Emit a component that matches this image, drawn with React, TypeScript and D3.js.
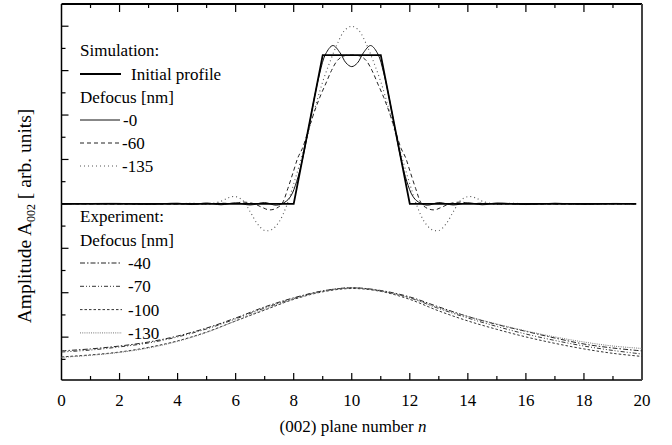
import React from "react";
import * as d3 from "d3";

// ---------- data ----------
const xTickLabels = [0, 2, 4, 6, 8, 10, 12, 14, 16, 18, 20];

// Simulation (baseline at 0)
const initN = [0, 8, 9, 11, 12, 19.8];
const initV = [0, 0, 6.7, 6.7, 0, 0];

const sim0N = [0, 2, 3, 4, 4.5, 5, 5.5, 6, 6.5, 7, 7.4, 7.7, 7.9, 8.1, 8.3, 8.5, 8.7, 8.9, 9.1, 9.35, 9.6, 9.8, 10, 10.2, 10.4, 10.65, 10.9, 11.1, 11.3, 11.5, 11.7, 11.9, 12.1, 12.3, 12.6, 13, 13.5, 14, 14.5, 15, 16, 17, 18, 19, 19.8];
const sim0V = [0, 0.02, -0.02, 0.03, -0.03, 0.04, -0.04, 0.05, -0.05, 0.06, -0.06, 0.08, 0.35, 1.0, 2.0, 3.3, 4.7, 5.9, 6.75, 7.13, 6.8, 6.35, 6.18, 6.35, 6.8, 7.13, 6.75, 5.9, 4.7, 3.3, 2.0, 1.0, 0.35, 0.08, -0.06, 0.06, -0.05, 0.05, -0.04, 0.04, -0.03, 0.03, -0.02, 0.02, 0];

const sim60N = [0, 5, 5.5, 6, 6.2, 6.6, 6.9, 7.15, 7.4, 7.6, 7.8, 8.0, 8.15, 8.3, 8.5, 8.7, 8.9, 9.1, 9.3, 9.5, 9.7, 10, 10.3, 10.5, 10.7, 10.9, 11.1, 11.3, 11.5, 11.7, 11.85, 12.0, 12.2, 12.4, 12.6, 12.85, 13.1, 13.4, 13.8, 14, 14.5, 15, 19.8];
const sim60V = [0, 0, 0.03, 0.02, 0.08, 0.02, -0.15, -0.27, -0.2, 0.02, 0.7, 1.5, 2.1, 2.5, 3.3, 4.1, 4.8, 5.4, 6.0, 6.45, 6.65, 6.7, 6.65, 6.45, 6.0, 5.4, 4.8, 4.1, 3.3, 2.5, 2.1, 1.5, 0.7, 0.02, -0.2, -0.27, -0.15, 0.02, 0.08, 0.02, 0.03, 0, 0];

const sim135N = [0, 4, 4.5, 5, 5.5, 5.75, 6, 6.25, 6.5, 6.75, 7, 7.25, 7.5, 7.75, 8, 8.25, 8.5, 8.75, 9, 9.25, 9.5, 9.75, 10, 10.25, 10.5, 10.75, 11, 11.25, 11.5, 11.75, 12, 12.25, 12.5, 12.75, 13, 13.25, 13.5, 13.75, 14, 14.25, 14.5, 15, 15.5, 16, 19.8];
const sim135V = [0, 0, 0.03, -0.02, 0.12, 0.28, 0.33, 0.15, -0.35, -0.9, -1.2, -1.15, -0.8, -0.1, 0.9, 2.0, 3.2, 4.4, 5.5, 6.4, 7.2, 7.8, 8.0, 7.8, 7.2, 6.4, 5.5, 4.4, 3.2, 2.0, 0.9, -0.1, -0.8, -1.15, -1.2, -0.9, -0.35, 0.15, 0.33, 0.28, 0.12, -0.02, 0.03, 0, 0];

// Experiment
const expN = [0, 1, 2, 3, 4, 5, 6, 7, 8, 9, 10, 11, 12, 13, 14, 15, 16, 17, 18, 19, 20];
const exp40 = [-6.62, -6.53, -6.40, -6.22, -5.95, -5.59, -5.14, -4.64, -4.23, -3.92, -3.78, -3.90, -4.19, -4.64, -5.07, -5.43, -5.74, -6.04, -6.31, -6.49, -6.62];
const exp70 = [-6.67, -6.58, -6.44, -6.26, -5.99, -5.63, -5.18, -4.69, -4.26, -3.92, -3.78, -3.92, -4.23, -4.71, -5.14, -5.52, -5.86, -6.15, -6.40, -6.60, -6.76];
const exp100 = [-6.89, -6.80, -6.67, -6.46, -6.17, -5.77, -5.27, -4.78, -4.30, -3.96, -3.81, -3.94, -4.30, -4.82, -5.27, -5.65, -5.99, -6.28, -6.53, -6.73, -6.87];
const exp130 = [-6.91, -6.82, -6.69, -6.49, -6.19, -5.79, -5.27, -4.75, -4.28, -3.94, -3.78, -3.92, -4.23, -4.69, -5.07, -5.41, -5.72, -5.99, -6.22, -6.40, -6.51];

const FONT = "'Liberation Serif', 'Times New Roman', serif";

export default function App() {
  const x = d3.scaleLinear().domain([0, 20]).range([61.5, 642]);
  const y = d3.scaleLinear().domain([-7.93, 9.0]).range([380, 4]);

  const lineSmooth = d3.line<[number, number]>().x(d => x(d[0])).y(d => y(d[1])).curve(d3.curveCatmullRom.alpha(0.5));
  const lineLin = d3.line<[number, number]>().x(d => x(d[0])).y(d => y(d[1]));
  const pts = (n: number[], v: number[]) => n.map((d, i) => [d, v[i]] as [number, number]);

  const xMinor = d3.range(1, 20);
  const yTicks = d3.range(-7, 9);

  const L = x(0), R = x(20), T = y(9.0), B = y(-7.93);

  const simLegend = [
    { label: "-0", dash: "none", w: 1, color: "#111", tx: 123 },
    { label: "-60", dash: "4,3", w: 1, color: "#222", tx: 122 },
    { label: "-135", dash: "1,3", w: 1, color: "#555", tx: 122 },
  ];
  const expLegend = [
    { label: "-40", dash: "5,2,1.5,2", w: 1, color: "#222" },
    { label: "-70", dash: "4,2,1,2,1,2", w: 1, color: "#333" },
    { label: "-100", dash: "2.5,2", w: 1, color: "#333" },
    { label: "-130", dash: "1,1.2", w: 1, color: "#777" },
  ];
  const expData = [exp40, exp70, exp100, exp130];

  return (
    <svg width={672} height={445} style={{ position: "absolute", left: 0, top: 0, background: "#fff" }} fontFamily={FONT}>
      <rect width={672} height={445} fill="#fff" />
      {/* frame */}
      <line x1={L} x2={L} y1={T} y2={B} stroke="#000" strokeWidth={1.5} />
      <line x1={L} x2={R} y1={B} y2={B} stroke="#000" strokeWidth={1.5} />
      <line x1={L} x2={R} y1={T} y2={T} stroke="#000" strokeWidth={1.8} />
      <line x1={R} x2={R} y1={T} y2={B} stroke="#444" strokeWidth={2} />
      {/* x ticks */}
      {xMinor.map(t => (
        <g key={"xt" + t}>
          <line x1={x(t)} x2={x(t)} y1={B} y2={B - (t % 2 === 0 ? 7 : 4)} stroke="#000" strokeWidth={1.2} />
          <line x1={x(t)} x2={x(t)} y1={T} y2={T + (t % 2 === 0 ? 8 : 4)} stroke="#000" strokeWidth={1.2} />
        </g>
      ))}
      {/* y ticks */}
      {yTicks.map(t => (
        <line key={"yt" + t} x1={L} x2={L + (t % 2 === 0 ? 7 : 4)} y1={y(t)} y2={y(t)} stroke="#000" strokeWidth={1.2} />
      ))}
      {xTickLabels.map(t => (
        <text key={"xl" + t} x={x(t)} y={406} fontSize={17} textAnchor="middle" fill="#000">{t}</text>
      ))}
      <text x={353} y={432} fontSize={17} textAnchor="middle" fill="#000">
        (002) plane number <tspan fontStyle="italic">n</tspan>
      </text>
      <text transform="translate(31,216) rotate(-90)" fontSize={19.5} textAnchor="middle" fill="#000">
        Amplitude  A<tspan fontSize={12} dy={4}>002</tspan><tspan dy={-4}> [ arb. units]</tspan>
      </text>

      {/* experiment curves */}
      {expData.map((d, i) => (
        <path key={"e" + i} d={lineSmooth(pts(expN, d)) || ""} fill="none" stroke={expLegend[i].color} strokeWidth={1} strokeDasharray={expLegend[i].dash} />
      ))}
      {/* simulation curves */}
      <path d={lineSmooth(pts(sim135N, sim135V)) || ""} fill="none" stroke="#555" strokeWidth={1.1} strokeDasharray="1,3" />
      <path d={lineSmooth(pts(sim60N, sim60V)) || ""} fill="none" stroke="#222" strokeWidth={1} strokeDasharray="4,3" />
      <path d={lineSmooth(pts(sim0N, sim0V)) || ""} fill="none" stroke="#111" strokeWidth={1} />
      <path d={lineLin(pts(initN, initV)) || ""} fill="none" stroke="#000" strokeWidth={1.8} />

      {/* legends */}
      <g fontSize={17} fill="#000">
        <text x={80} y={56}>Simulation:</text>
        <line x1={80} x2={121} y1={74} y2={74} stroke="#000" strokeWidth={1.8} />
        <text x={131} y={80}>Initial profile</text>
        <text x={80} y={103}>Defocus [nm]</text>
        {simLegend.map((s, i) => (
          <g key={"sl" + i}>
            <line x1={80} x2={120} y1={120 + i * 23} y2={120 + i * 23} stroke={s.color} strokeWidth={s.w} strokeDasharray={s.dash} />
            <text x={s.tx} y={126 + i * 23}>{s.label}</text>
          </g>
        ))}
        <text x={80} y={221.5}>Experiment:</text>
        <text x={80} y={245.5}>Defocus [nm]</text>
        {expLegend.map((s, i) => (
          <g key={"el" + i}>
            <line x1={80} x2={122} y1={263 + i * 23.3} y2={263 + i * 23.3} stroke={s.color} strokeWidth={s.w} strokeDasharray={s.dash} />
            <text x={128} y={269 + i * 23.3}>{s.label}</text>
          </g>
        ))}
      </g>
    </svg>
  );
}
